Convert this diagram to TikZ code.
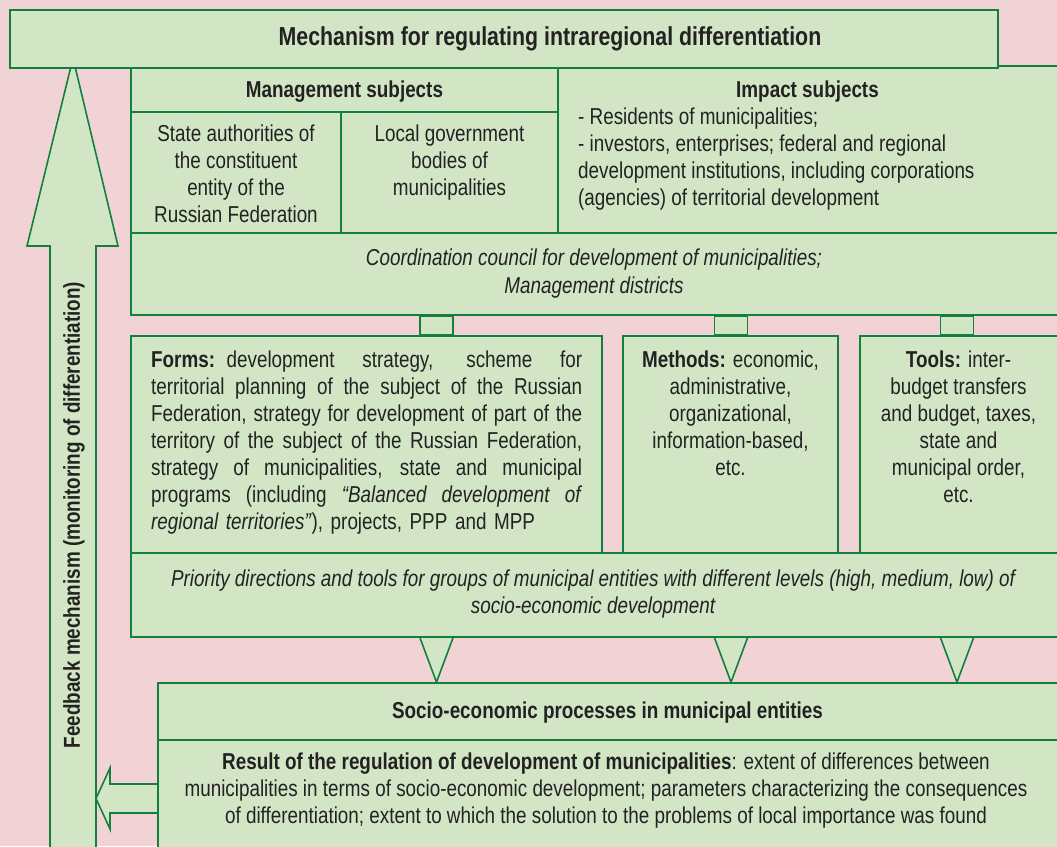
\documentclass[tikz,border=0pt]{standalone}
\usepackage{fontspec}
\setmainfont{Liberation Sans}[FakeStretch=0.82]
\usetikzlibrary{calc}
\definecolor{bgpink}{HTML}{F2D3D5}
\definecolor{boxg}{HTML}{D2E6C6}
\definecolor{lineg}{HTML}{138040}
\definecolor{txt}{HTML}{222222}
\newcommand{\jline}[1]{\leavevmode\hbox to 431pt{\spaceskip=0.278em plus 1fil minus 0.12em\relax #1}}
\begin{document}
\begin{tikzpicture}[x=1pt,y=-1pt,
  every node/.style={font=\fontsize{23}{27}\selectfont, text=txt, inner sep=0pt},
  box/.style={draw=lineg, fill=boxg, line width=1.6pt},
  shapeg/.style={draw=lineg, fill=boxg, line width=1.6pt, line join=miter},
  titlefont/.style={font=\fontsize{26}{30}\selectfont\bfseries},
  boldfont/.style={font=\fontsize{23}{27}\selectfont\bfseries}]
\fill[bgpink] (0,0) rectangle (1057,846);
\useasboundingbox (0,0) rectangle (1057,846);

% feedback arrow (up)
\draw[shapeg] (50,851) -- (50,246) -- (27,246) -- (73,58) -- (118,246) -- (96,246) -- (96,851);
\coordinate (fbR) at (96,798.5);

% connector positions
\coordinate (k1) at (436.5,0);
\coordinate (k2) at (731,0);
\coordinate (k3) at (957,0);

% boxes (geometry only)
\node[box, minimum width=504pt, minimum height=167pt] (impact) at (810,149.5) {};
\node[box, minimum width=427pt, minimum height=44pt] (mgmt) at (344.5,90) {};
\node[box, minimum width=210pt, minimum height=121pt] (state) at (236,172.5) {};
\node[box, minimum width=217pt, minimum height=121pt] (local) at (449.5,172.5) {};
\node[box, minimum width=931pt, minimum height=82pt] (coord) at (596.5,274) {};

\node[box, minimum width=471pt, minimum height=217pt] (forms) at (366.5,444.5) {};
\node[box, minimum width=215pt, minimum height=217pt] (methods) at (730.5,444.5) {};
\node[box, minimum width=202pt, minimum height=217pt] (tools) at (961,444.5) {};

% small connectors between coordination council and the three boxes
\draw[box] ($(coord.south -| k1)+(-16.5,0)$) rectangle ($(forms.north -| k1)+(16.5,0)$);
\draw[box] ($(coord.south -| k2)+(-16.5,0)$) rectangle ($(methods.north -| k2)+(16.5,0)$);
\draw[box] ($(coord.south -| k3)+(-16.5,0)$) rectangle ($(tools.north -| k3)+(16.5,0)$);
\node[box, minimum width=931pt, minimum height=82pt] (coord) at (596.5,274) {};
\node[box, minimum width=471pt, minimum height=217pt] (forms) at (366.5,444.5) {};
\node[box, minimum width=215pt, minimum height=217pt] (methods) at (730.5,444.5) {};
\node[box, minimum width=202pt, minimum height=217pt] (tools) at (961,444.5) {};

\node[box, minimum width=931pt, minimum height=84pt] (prio) at (596.5,595) {};
\node[box, minimum width=904pt, minimum height=57pt] (socio) at (610,711.5) {};

% triangles from priority box to socio-economic processes
\foreach \k in {k1,k2,k3}{
  \draw[shapeg] ($(prio.south -| \k)+(-16.5,0)$) -- (socio.north -| \k) -- ($(prio.south -| \k)+(16.5,0)$);
}
\node[box, minimum width=931pt, minimum height=84pt] (prio) at (596.5,595) {};

% arrow from result to feedback
\draw[shapeg] ($(fbR -| socio.west)+(0,-14.5)$) -- ($(fbR)+(14,-14.5)$) -- ($(fbR)+(14,-30.5)$) -- (fbR)
  -- ($(fbR)+(14,30.5)$) -- ($(fbR)+(14,14.5)$) -- ($(fbR -| socio.west)+(0,14.5)$);
\node[box, minimum width=904pt, minimum height=111pt] (result) at (610,795.5) {};

\node[box, minimum width=988pt, minimum height=58pt] (top) at (504,39) {};

% texts
\node[titlefont, anchor=base] (ttop) at (550,45.5) {Mechanism for regulating intraregional differentiation};
\node[boldfont, anchor=base] (tmgmt) at (344.5,97) {Management subjects};
\node[anchor=north, align=center] (tstate) at (236,125) {State authorities of\\the constituent\\entity of the\\Russian Federation};
\node[anchor=north, align=center] (tlocal) at (449.5,125) {Local government\\bodies of\\municipalities};
\node[boldfont, anchor=base] (timp) at (807.5,97) {Impact subjects};
\node[anchor=north west, align=left] (timplist) at (578,108) {- Residents of municipalities;\\- investors, enterprises; federal and regional\\development institutions, including corporations\\(agencies) of territorial development};
\node[anchor=north, align=center, font=\fontsize{23}{28}\selectfont\itshape] (tcoord) at (594,249) {Coordination council for development of municipalities;\\Management districts};
\node[anchor=north west, align=left, text width=431pt] (tforms) at (151,351) {%
\jline{\textbf{Forms:} development strategy, scheme for}\\
\jline{territorial planning of the subject of the Russian}\\
\jline{Federation, strategy for development of part of the}\\
\jline{territory of the subject of the Russian Federation,}\\
\jline{strategy of municipalities, state and municipal}\\
\jline{programs (including \textit{“Balanced development of}}\\
\textit{regional territories”}), projects, PPP and MPP};
\node[anchor=north, align=center] (tmethods) at (730.5,351) {\textbf{Methods:} economic,\\administrative,\\organizational,\\information-based,\\etc.};
\node[anchor=north, align=center] (ttools) at (958.5,351) {\textbf{Tools:} inter-\\budget transfers\\and budget, taxes,\\state and\\municipal order,\\etc.};
\node[anchor=north, align=center, font=\fontsize{23}{27}\selectfont\itshape] (tprio) at (593,570) {Priority directions and tools for groups of municipal entities with different levels (high, medium, low) of\\socio-economic development};
\node[boldfont, anchor=base] (tsocio) at (607.5,718) {Socio-economic processes in municipal entities};
\node[anchor=north, align=center] (tresult) at (606,753) {\textbf{Result of the regulation of development of municipalities}: extent of differences between\\municipalities in terms of socio-economic development; parameters characterizing the consequences\\of differentiation; extent to which the solution to the problems of local importance was found};
\node[boldfont, rotate=90, anchor=center] (tfb) at (74,515) {Feedback mechanism (monitoring of differentiation)};
\end{tikzpicture}
\end{document}
